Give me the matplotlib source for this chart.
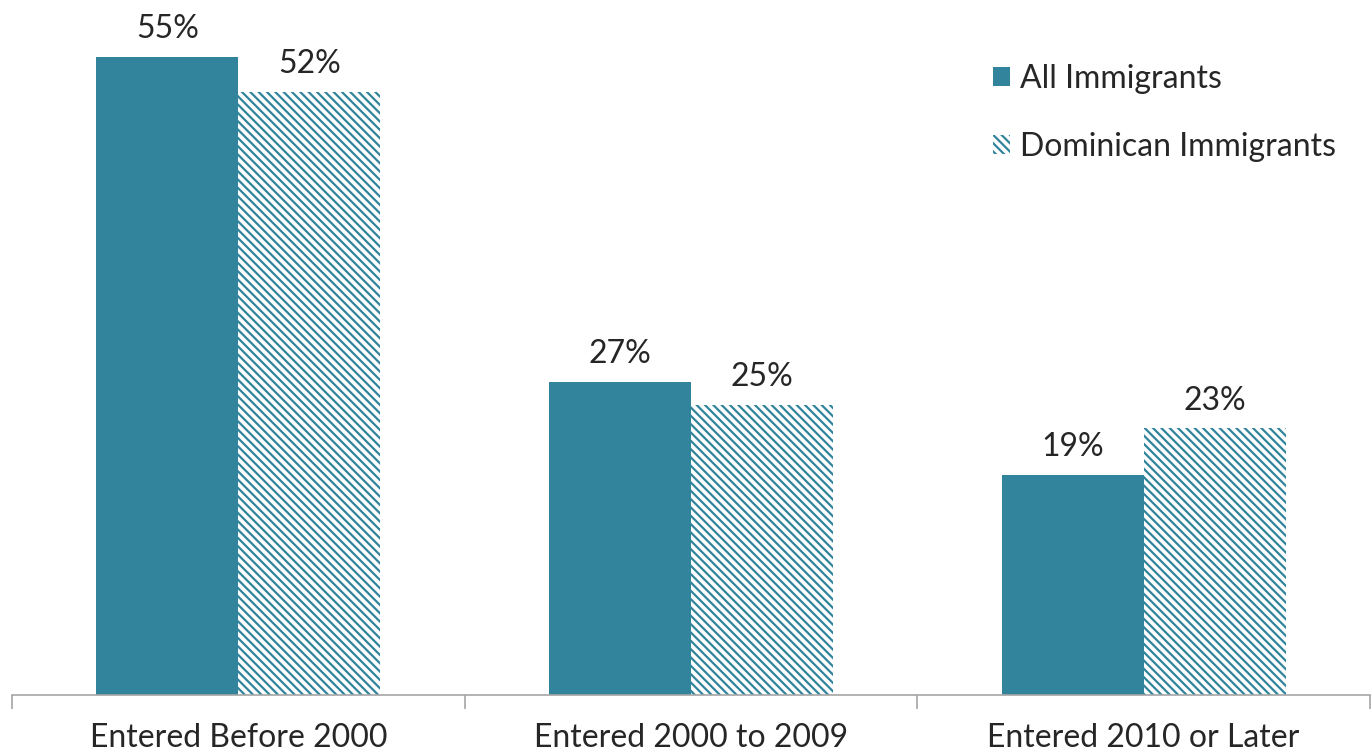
import matplotlib
matplotlib.use("Agg")
import matplotlib.pyplot as plt
import numpy as np

plt.rcParams["font.family"] = ["Lato", "DejaVu Sans"]
plt.rcParams["hatch.linewidth"] = 1.6

categories = ["Entered Before 2000", "Entered 2000 to 2009", "Entered 2010 or Later"]
all_immigrants = [55, 27, 19]
dominican_immigrants = [52, 25, 23]
series_names = ["All Immigrants", "Dominican Immigrants"]

TEAL = "#31849B"
TEXT = "#262626"

fig = plt.figure(figsize=(13.72, 7.54), dpi=100)
ax = fig.add_axes([12 / 1372, 59 / 754, 1358 / 1372, 695 / 754])

x = np.arange(len(categories))
w = 0.314
b1 = ax.bar(x - w / 2, all_immigrants, w, color=TEAL, label=series_names[0])
b2 = ax.bar(x + w / 2, dominican_immigrants, w, color="white", edgecolor=TEAL,
            hatch="\\\\\\\\", linewidth=0, label=series_names[1])

for bars, vals in [(b1, all_immigrants), (b2, dominican_immigrants)]:
    for rect, v in zip(bars, vals):
        ax.annotate(f"{v}%", (rect.get_x() + rect.get_width() / 2, v),
                    xytext=(0, 9), textcoords="offset points",
                    ha="center", va="bottom", fontsize=23, color=TEXT)

ax.set_xlim(-0.5, len(categories) - 0.5)
ax.set_ylim(0, 59.9)
ax.set_yticks([])
for s in ["top", "right", "left"]:
    ax.spines[s].set_visible(False)
ax.spines["bottom"].set_color("#A6A6A6")
ax.spines["bottom"].set_linewidth(1.2)

ax.set_xticks(x)
ax.set_xticklabels(categories, fontsize=23, color=TEXT)
ax.tick_params(axis="x", which="major", length=0, pad=20)
ax.set_xticks(np.arange(len(categories) + 1) - 0.5, minor=True)
ax.tick_params(axis="x", which="minor", length=10, width=1.2, color="#A6A6A6", direction="out")

leg = ax.legend(loc="upper left", bbox_to_anchor=(0.701, 0.95), frameon=False,
                fontsize=23, handlelength=0.55, handleheight=0.55, handletextpad=0.3,
                labelspacing=1.2, labelcolor=TEXT)

fig.savefig("out.png", dpi=100)
